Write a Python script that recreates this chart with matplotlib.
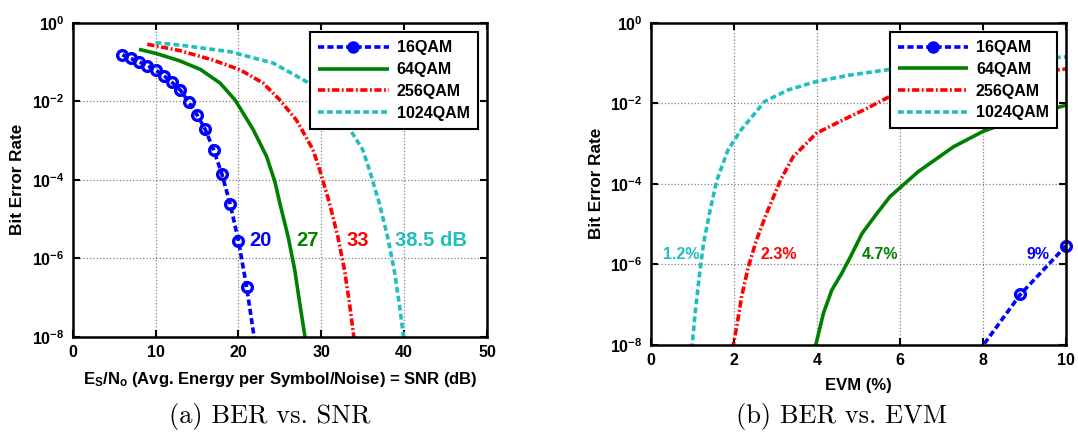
import matplotlib
matplotlib.use("Agg")
import matplotlib.pyplot as plt
import numpy as np

plt.rcParams['font.family'] = ['Liberation Sans', 'DejaVu Sans']
plt.rcParams['font.weight'] = 'bold'
plt.rcParams['mathtext.fontset'] = 'custom'
plt.rcParams['mathtext.rm'] = 'Liberation Sans:bold'
plt.rcParams['mathtext.bf'] = 'Liberation Sans:bold'
plt.rcParams['mathtext.it'] = 'Liberation Sans:bold'

labels = ['16QAM', '64QAM', '256QAM', '1024QAM']
colors = ['#0000ff', '#008000', '#ff0000', '#1fbfbf']

# (a) BER vs SNR (dB)
snr16 = [6, 7, 8, 9, 10, 11, 12, 13, 14, 15, 16, 17, 18, 19, 20, 21, 22]
ber16 = [0.151, 0.123, 0.1, 0.081, 0.062, 0.045, 0.030, 0.019, 9.5e-3, 4.5e-3,
         1.9e-3, 5.8e-4, 1.4e-4, 2.4e-5, 2.8e-6, 1.8e-7, 7e-9]
snr64 = [8, 10, 12.9, 15.4, 17.8, 19.6, 21.8, 23.4, 24.4, 25.0, 26.0, 26.8, 27.4, 28.0, 28.1]
ber64 = [0.209, 0.166, 0.107, 0.0646, 0.0288, 0.0107, 1.86e-3, 3.9e-4, 8.9e-5,
         2.5e-5, 3.5e-6, 5.0e-7, 7.1e-8, 1.1e-8, 6.3e-9]
snr256 = [9, 12.9, 16.9, 20.2, 23.0, 25.0, 27.0, 29.0, 29.8, 31.0, 32.0, 32.8, 33.4, 33.9, 34.1]
ber256 = [0.282, 0.195, 0.112, 0.063, 0.0288, 0.0107, 3.3e-3, 5.8e-4, 1.8e-4,
          2.5e-5, 3.5e-6, 5.0e-7, 7.1e-8, 1.1e-8, 6.3e-9]
snr1024 = [10, 12.9, 19.0, 24.2, 28.2, 30.5, 32.4, 33.4, 35.0, 35.8, 37.0, 38.0, 38.8, 39.4, 39.9, 40.1]
ber1024 = [0.309, 0.269, 0.182, 0.0933, 0.0316, 0.0112, 3.98e-3, 2.0e-3, 5.8e-4,
           1.8e-4, 2.5e-5, 3.5e-6, 5.0e-7, 7.1e-8, 1.1e-8, 6.3e-9]
snr_notes = ['20', '27', '33', '38.5 dB']
snr_note_x = [21.3, 27.0, 33.1, 38.95]
snr_note_colors = ['#0000ff', '#008000', '#ff0000', '#1fbfbf']

# (b) BER vs EVM (%)
evm16 = [7.9, 8.9, 10.0]
berb16 = [7e-9, 1.8e-7, 2.9e-6]
evm64 = [3.95, 4.16, 4.36, 4.6, 4.81, 5.09, 5.45, 5.76, 6.44, 7.29, 8.0, 8.65, 9.21, 10.0]
berb64 = [7.9e-9, 6.2e-8, 2.3e-7, 6.0e-7, 1.55e-6, 5.9e-6, 1.86e-5, 4.8e-5,
          2.0e-4, 8.3e-4, 2.0e-3, 3.5e-3, 5.6e-3, 8.9e-3]
evm256 = [1.97, 2.07, 2.19, 2.35, 2.55, 2.79, 3.13, 3.43, 3.99, 4.64, 5.2, 5.72, 7.0, 8.0, 9.0, 10.0]
berb256 = [7.9e-9, 2.8e-8, 1.6e-7, 8.7e-7, 4.1e-6, 1.86e-5, 1.26e-4, 4.7e-4,
           1.8e-3, 3.9e-3, 7.4e-3, 0.0141, 0.0282, 0.0417, 0.055, 0.0708]
evm1024 = [0.99, 1.07, 1.17, 1.27, 1.43, 1.59, 1.86, 2.18, 2.74, 3.31, 3.99, 4.8, 5.76, 7.0, 8.0, 9.0, 10.0]
berb1024 = [7.9e-9, 6.2e-8, 5.0e-7, 3.2e-6, 2.2e-5, 1.2e-4, 6.9e-4, 2.2e-3, 0.011,
            0.0214, 0.0347, 0.0501, 0.0692, 0.0933, 0.11, 0.126, 0.141]
evm_notes = ['1.2%', '2.3%', '4.7%', '9%']
evm_note_x = [0.30, 2.65, 5.08, 9.04]
evm_note_colors = ['#1fbfbf', '#ff0000', '#008000', '#0000ff']

styles = [dict(ls=(0, (1.7, 0.9)), lw=2.6),
          dict(ls='-', lw=2.6),
          dict(ls=(0, (2.0, 0.7, 0.5, 0.7)), lw=2.6),
          dict(ls=(0, (1.6, 0.9)), lw=2.6)]


def fmt_pow(v, p):
    return r'$\mathbf{10^{%d}}$' % int(round(np.log10(v)))


def dibujar(ax, xs, ys, notes, note_x, note_y, note_colors, note_size, xlim, xticks, xlabel):
    for i in range(4):
        x = np.array(xs[i])
        y = np.array(ys[i])
        ax.plot(x, y, color=colors[i], label=labels[i], solid_capstyle='butt', **styles[i])
        if i == 0:
            m = y >= 1e-8
            ax.plot(x[m], y[m], 'o', color=colors[i], ms=7, mfc='none', mew=2.4, clip_on=False)
    ax.set_yscale('log')
    ax.set_ylim(1e-8, 1)
    ax.set_xlim(*xlim)
    ax.set_xticks(xticks)
    ax.set_yticks([1, 1e-2, 1e-4, 1e-6, 1e-8])
    ax.yaxis.set_major_formatter(matplotlib.ticker.FuncFormatter(fmt_pow))
    ax.yaxis.set_minor_locator(matplotlib.ticker.NullLocator())
    ax.grid(True, ls=':', color='#808080', lw=0.9)
    ax.tick_params(direction='in', length=5, width=1.5, top=True, right=True, labelsize=11.5, pad=6)
    for s in ax.spines.values():
        s.set_linewidth(1.8)
    ax.set_ylabel('Bit Error Rate', fontsize=12.3, fontweight='bold')
    ax.set_xlabel(xlabel, fontsize=12, fontweight='bold')
    for t, x, c in zip(notes, note_x, note_colors):
        ax.text(x, note_y, t, color=c, fontsize=note_size, fontweight='bold', ha='left', va='center')
    for lab in ax.get_xticklabels():
        lab.set_fontweight('bold')


fig = plt.figure(figsize=(10.78, 4.36), dpi=100)
ax1 = fig.add_axes([0.0674, 0.2278, 0.3844, 0.7202])
ax2 = fig.add_axes([0.6036, 0.2087, 0.3853, 0.7393])

dibujar(ax1, [snr16, snr64, snr256, snr1024], [ber16, ber64, ber256, ber1024],
        snr_notes, snr_note_x, 2.75e-6, snr_note_colors, 14.5, (0, 50), [0, 10, 20, 30, 40, 50],
        r'E$_\mathbf{S}$/N$_\mathbf{o}$ (Avg. Energy per Symbol/Noise) = SNR (dB)')
dibujar(ax2, [evm16, evm64, evm256, evm1024], [berb16, berb64, berb256, berb1024],
        evm_notes, evm_note_x, 1.8e-6, evm_note_colors, 11.5, (0, 10), [0, 2, 4, 6, 8, 10], 'EVM (%)')

ax1.yaxis.set_label_coords(-0.115, 0.5)
ax2.yaxis.set_label_coords(-0.112, 0.5)
ax1.xaxis.set_label_coords(0.5, -0.106)
ax2.xaxis.set_label_coords(0.5, -0.102)

for ax, anchor in [(ax1, (0.977, 0.969)), (ax2, (0.978, 0.970))]:
    h, l = ax.get_legend_handles_labels()
    h[0] = matplotlib.lines.Line2D([], [], color=colors[0], marker='o', ms=8,
                                   **styles[0])
    leg = ax.legend(h, l, loc='upper right', bbox_to_anchor=anchor, borderaxespad=0,
                    fancybox=False, edgecolor='black', framealpha=1, handlelength=4.4,
                    handletextpad=0.5, labelspacing=0.42, borderpad=0.5,
                    prop={'family': 'Liberation Sans', 'weight': 'bold', 'size': 11.5})
    leg.get_frame().set_linewidth(1.5)

fig.text(0.2505, 0.045, '(a) BER vs. SNR', family='cmr10', fontsize=19, ha='center', va='center')
fig.text(0.781, 0.045, '(b) BER vs. EVM', family='cmr10', fontsize=19, ha='center', va='center')

fig.savefig('out.png', dpi=100)
